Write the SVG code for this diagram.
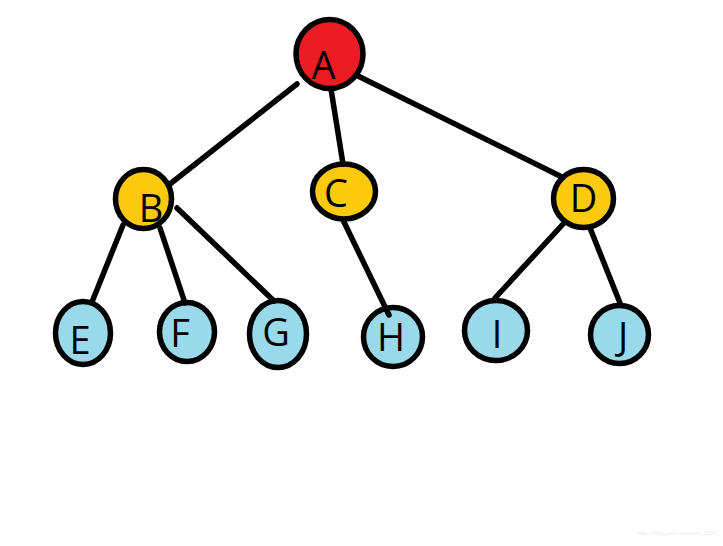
<svg xmlns="http://www.w3.org/2000/svg" width="723" height="546" viewBox="0 0 723 546">
<style>
.n ellipse{stroke:#000;stroke-width:5.5}
.r{fill:#ED1C24}.y{fill:#FFC90E}.b{fill:#99D9EA}
.n text{font-family:"Open Sans","Noto Sans",sans-serif;font-size:38px;fill:#000;text-anchor:middle}
#edges line{stroke:#000;stroke-width:5.5;stroke-linecap:round}
</style>
<rect width="723" height="546" fill="#fff"/>
<g id="nA" class="n"><ellipse class="r" cx="329.5" cy="54" rx="33.5" ry="34.5"/><text x="323.5" y="79">A</text></g>
<g id="nB" class="n"><ellipse class="y" cx="143.5" cy="199" rx="28" ry="29.5"/><text x="151" y="222">B</text></g>
<g id="nC" class="n"><ellipse class="y" cx="344" cy="191.5" rx="31.5" ry="27.5"/><text x="336" y="207">C</text></g>
<g id="nD" class="n"><ellipse class="y" cx="583.5" cy="198.5" rx="30" ry="29"/><text x="583.5" y="212">D</text></g>
<g id="nE" class="n"><ellipse class="b" cx="83" cy="333" rx="27.5" ry="31.5"/><text x="80" y="354">E</text></g>
<g id="nF" class="n"><ellipse class="b" cx="187" cy="332" rx="27.5" ry="29.5"/><text x="180" y="347">F</text></g>
<g id="nG" class="n"><ellipse class="b" cx="278" cy="334" rx="28.5" ry="33.5"/><text x="276" y="346">G</text></g>
<g id="nH" class="n"><ellipse class="b" cx="393" cy="337" rx="29.5" ry="29.5"/><text x="391" y="351">H</text></g>
<g id="nI" class="n"><ellipse class="b" cx="496" cy="330.5" rx="31.5" ry="30"/><text x="497" y="348">I</text></g>
<g id="nJ" class="n"><ellipse class="b" cx="619.5" cy="334.5" rx="29" ry="29"/><text x="623" y="350">J</text></g>
<g id="edges">
<line x1="297" y1="84" x2="170" y2="184"/>
<line x1="331" y1="89" x2="343" y2="164"/>
<line x1="358" y1="76" x2="560" y2="176"/>
<line x1="123" y1="225" x2="92" y2="302"/>
<line x1="160" y1="228" x2="185" y2="303"/>
<line x1="177" y1="208" x2="274" y2="301"/>
<line x1="343" y1="220" x2="389" y2="315"/>
<line x1="564" y1="223" x2="495" y2="298"/>
<line x1="590" y1="228" x2="620" y2="303"/>
</g>
<text x="638" y="535" font-family="Liberation Sans,sans-serif" font-size="5.5" fill="#ececec">https://blog.csdn.net/code_1024_</text>
</svg>
